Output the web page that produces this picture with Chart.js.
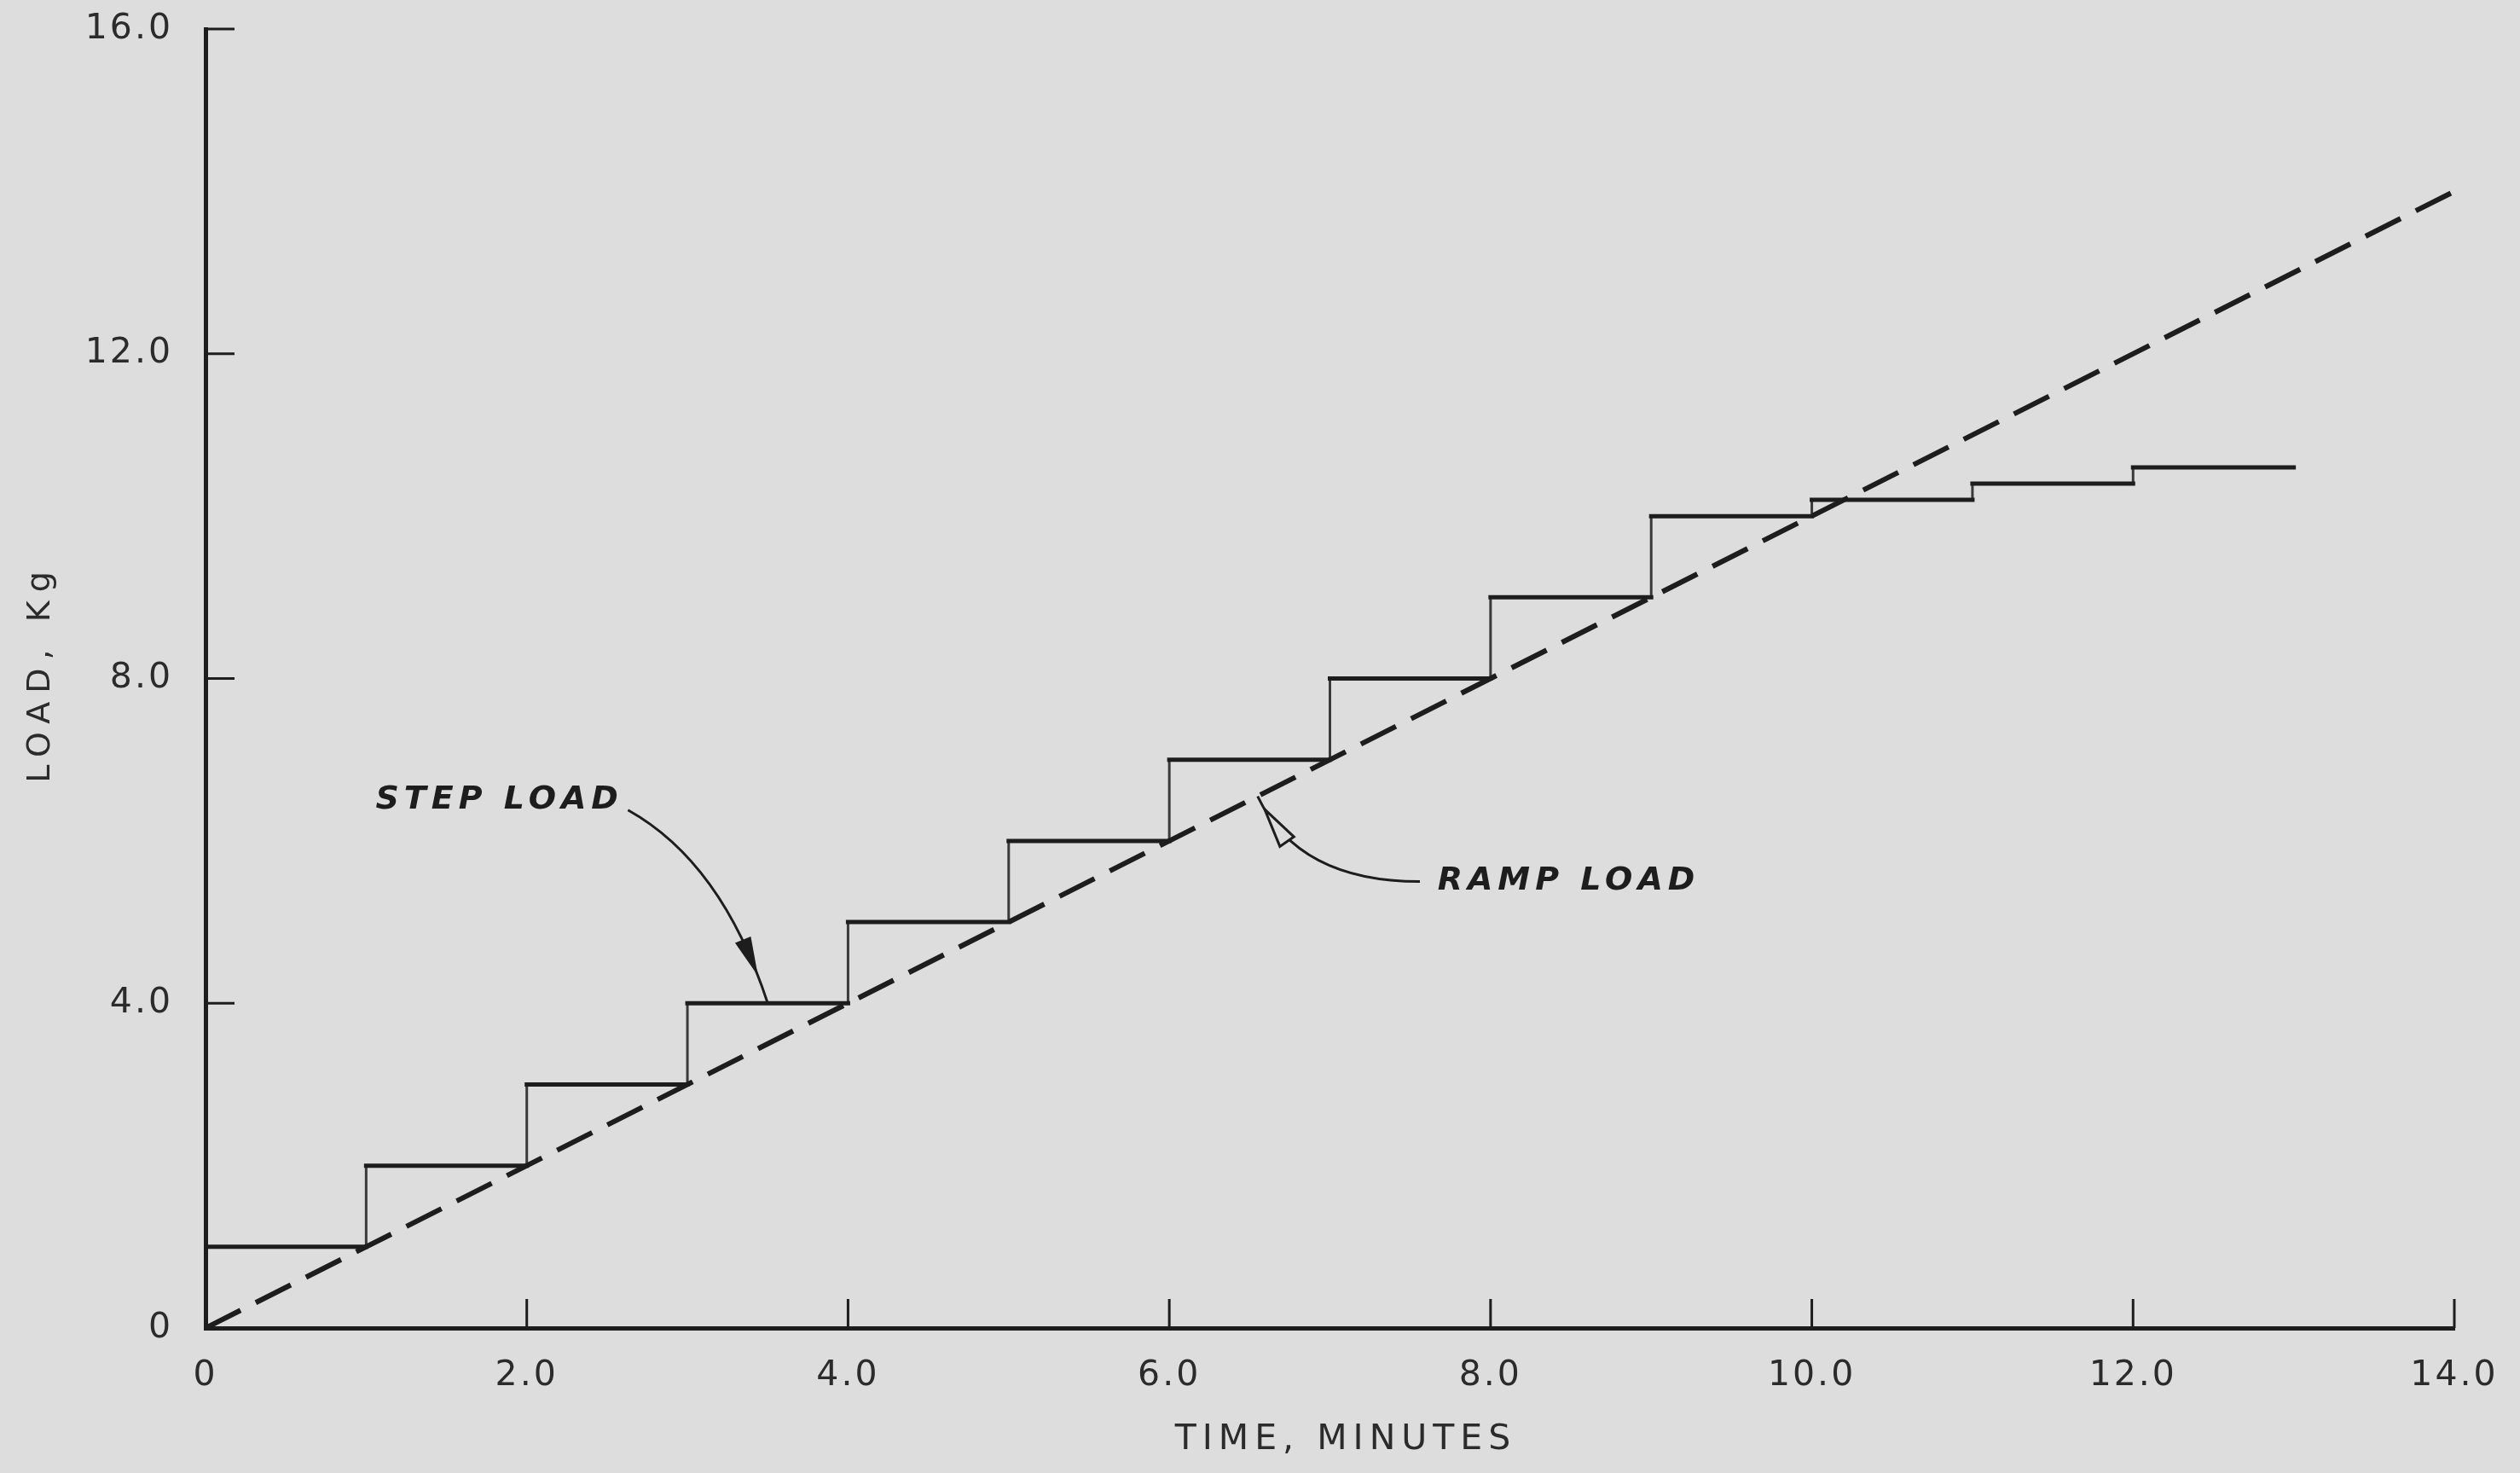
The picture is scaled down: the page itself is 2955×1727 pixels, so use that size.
<!DOCTYPE html>
<html>
<head>
<meta charset="utf-8">
<title>Step load vs ramp load</title>
<script src="https://cdn.jsdelivr.net/npm/chart.js@4.4.1/dist/chart.umd.min.js"></script>
<style>
  html, body { margin: 0; padding: 0; background: #dcdddc; }
  canvas { display: block; }
</style>
</head>
<body>
<canvas id="loadChart" width="2955" height="1727"></canvas>
<script>
// ====== Data ======
const stepTime = [0, 1, 2, 3, 4, 5, 6, 7, 8, 9, 10, 11, 12, 13];
const stepLoad = [1, 2, 3, 4, 5, 6, 7, 8, 9, 10, 10.2, 10.4, 10.6, 10.6];
const rampTime = [0, 14];
const rampLoad = [0, 14];
const timeTicks = [0, 2, 4, 6, 8, 10, 12, 14];
const loadTicks = [0, 4, 8, 12, 16];

const INK = '#1d1d1d';
const TEXT = '#2b2b2b';
const FONT = '"DejaVu Sans", "Liberation Sans", sans-serif';

// ====== Callout labels (placed in data units) ======
const callouts = [
    { text: 'STEP LOAD', at: [1.83, 6.5], align: 'center', from: [2.63, 6.38], to: [3.5, 4.0], bend: [0.67, 0.27], head: 'filled', headAt: 0.9 },
    { text: 'RAMP LOAD', at: [7.67, 5.5], align: 'left', from: [7.56, 5.5], to: [6.55, 6.55], bend: [0.75, 0.0], head: 'open', headAt: 0.92 }
];

const fmt = v => v === 0 ? '0' : v.toFixed(1);

// flat parts of the staircase drawn heavier than the risers, as in the drawing
const treads = [];
for (let i = 0; i < stepTime.length - 1; i++) {
    treads.push({ x: stepTime[i], y: stepLoad[i] }, { x: stepTime[i + 1], y: stepLoad[i] }, { x: stepTime[i + 1], y: null });
}

// ====== Plot decorations: inward ticks, titles, callouts ======
const paperPlugin = {
    id: 'paper',
    beforeDraw(chart) {
        chart.ctx.letterSpacing = '3px';
    },
    afterDraw(chart) {
        const { ctx, chartArea, scales } = chart;
        const { x, y } = scales;
        ctx.save();
        ctx.strokeStyle = INK;
        ctx.fillStyle = INK;

        // ticks pointing into the plot
        ctx.lineWidth = 3;
        ctx.beginPath();
        loadTicks.forEach(v => {
            if (v === 0) return;
            const py = y.getPixelForValue(v);
            ctx.moveTo(chartArea.left, py);
            ctx.lineTo(chartArea.left + 34, py);
        });
        timeTicks.forEach(v => {
            if (v === 0) return;
            const px = x.getPixelForValue(v);
            ctx.moveTo(px, chartArea.bottom);
            ctx.lineTo(px, chartArea.bottom - 34);
        });
        ctx.stroke();

        // axis titles
        ctx.fillStyle = TEXT;
        ctx.font = '41px ' + FONT;
        ctx.letterSpacing = '7px';
        ctx.textAlign = 'center';
        ctx.textBaseline = 'middle';
        ctx.fillText('TIME, MINUTES', 1578, 1688);
        ctx.save();
        ctx.translate(48, 789);
        ctx.rotate(-Math.PI / 2);
        ctx.font = '38px ' + FONT;
        ctx.letterSpacing = '10px';
        ctx.fillText('LOAD, Kg', 0, 0);
        ctx.restore();

        // callouts
        callouts.forEach(c => {
            ctx.fillStyle = INK;
            ctx.font = 'italic 600 38px ' + FONT;
            ctx.letterSpacing = '6px';
            ctx.textAlign = c.align;
            ctx.textBaseline = 'middle';
            ctx.fillText(c.text, x.getPixelForValue(c.at[0]), y.getPixelForValue(c.at[1]));

            const p0 = { x: x.getPixelForValue(c.from[0]), y: y.getPixelForValue(c.from[1]) };
            const p2 = { x: x.getPixelForValue(c.to[0]), y: y.getPixelForValue(c.to[1]) };
            const cp = { x: p0.x + (p2.x - p0.x) * c.bend[0], y: p0.y + (p2.y - p0.y) * c.bend[1] };
            ctx.lineWidth = 3;
            ctx.beginPath();
            ctx.moveTo(p0.x, p0.y);
            ctx.quadraticCurveTo(cp.x, cp.y, p2.x, p2.y);
            ctx.stroke();

            const q = t => ({
                x: (1 - t) * (1 - t) * p0.x + 2 * (1 - t) * t * cp.x + t * t * p2.x,
                y: (1 - t) * (1 - t) * p0.y + 2 * (1 - t) * t * cp.y + t * t * p2.y
            });
            const tip = q(c.headAt), back = q(c.headAt - 0.1);
            const len = Math.hypot(tip.x - back.x, tip.y - back.y);
            const ux = (tip.x - back.x) / len, uy = (tip.y - back.y) / len;
            const L = 46, W = 10;
            const bx = tip.x - ux * L, by = tip.y - uy * L;
            ctx.beginPath();
            ctx.moveTo(tip.x, tip.y);
            ctx.lineTo(bx - uy * W, by + ux * W);
            ctx.lineTo(bx + uy * W, by - ux * W);
            ctx.closePath();
            if (c.head === 'filled') ctx.fill();
            else { ctx.fillStyle = '#dcdddc'; ctx.fill(); ctx.lineWidth = 3; ctx.stroke(); }
        });
        ctx.restore();
    }
};

const ctx = document.getElementById('loadChart').getContext('2d');
new Chart(ctx, {
    type: 'line',
    data: {
        datasets: [
            {
                label: 'Step load',
                data: stepTime.map((t, i) => ({ x: t, y: stepLoad[i] })),
                stepped: 'before',
                borderColor: '#3a3a3a',
                borderWidth: 3,
                pointRadius: 0,
                fill: false,
                order: 2
            },
            {
                label: 'Step load (treads)',
                data: treads,
                spanGaps: false,
                borderColor: INK,
                borderWidth: 5,
                borderCapStyle: 'square',
                pointRadius: 0,
                fill: false,
                order: 1
            },
            {
                label: 'Ramp load',
                data: rampTime.map((t, i) => ({ x: t, y: rampLoad[i] })),
                borderColor: INK,
                borderWidth: 6,
                borderDash: [46, 20],
                pointRadius: 0,
                fill: false,
                order: 0
            }
        ]
    },
    options: {
        responsive: false,
        animation: false,
        devicePixelRatio: 1,
        layout: { padding: { top: 34, right: 77, left: 0, bottom: 0 } },
        plugins: { legend: { display: false }, tooltip: { enabled: false } },
        scales: {
            x: {
                type: 'linear', min: 0, max: 14,
                afterBuildTicks: s => { s.ticks = timeTicks.map(v => ({ value: v })); },
                afterFit: s => { s.height = 170; s.paddingLeft = 0; s.paddingRight = 0; },
                ticks: { callback: fmt, color: TEXT, font: { family: FONT, size: 41 }, padding: 32, maxRotation: 0 },
                grid: { drawOnChartArea: false, drawTicks: false },
                border: { display: true, color: INK, width: 5 }
            },
            y: {
                type: 'linear', min: 0, max: 16,
                afterBuildTicks: s => { s.ticks = loadTicks.map(v => ({ value: v })); },
                afterFit: s => { s.width = 241; s.paddingTop = 0; s.paddingBottom = 0; },
                ticks: { callback: fmt, color: TEXT, font: { family: FONT, size: 41 }, padding: 38 },
                grid: { drawOnChartArea: false, drawTicks: false },
                border: { display: true, color: INK, width: 5 }
            }
        }
    },
    plugins: [paperPlugin]
});
</script>
</body>
</html>
